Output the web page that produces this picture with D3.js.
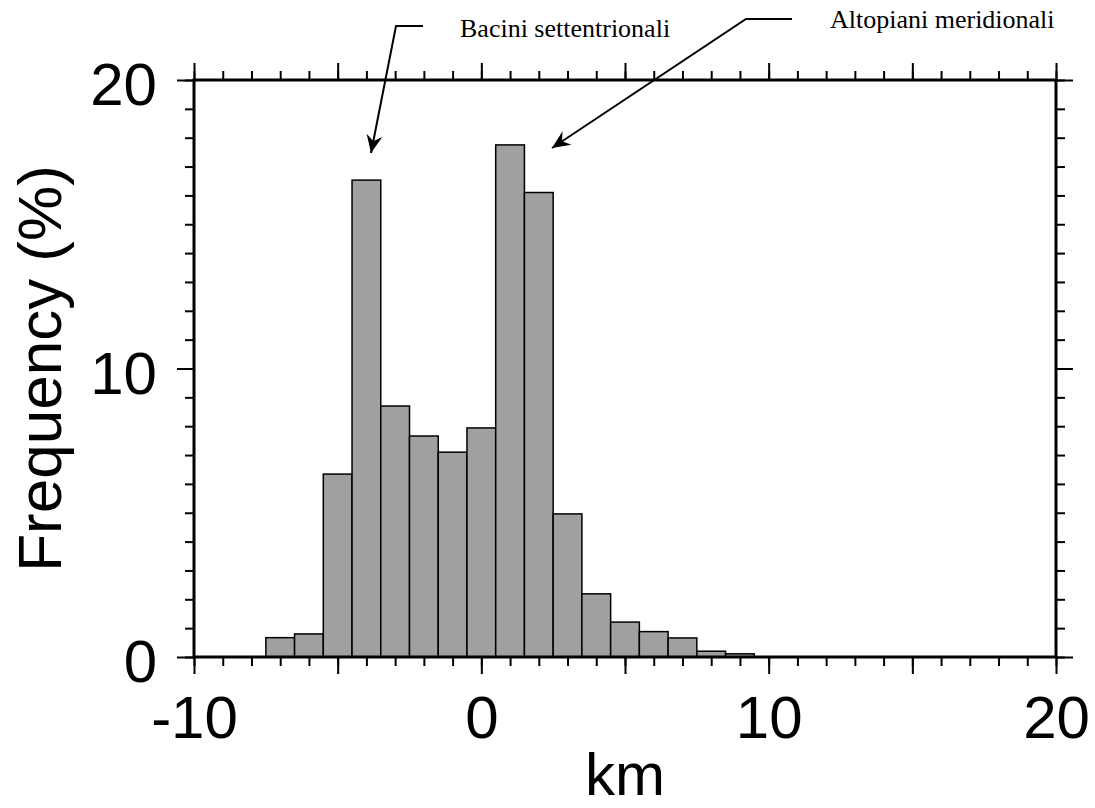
<!DOCTYPE html>
<html>
<head>
<meta charset="utf-8">
<script src="https://cdn.jsdelivr.net/npm/d3@7"></script>
<style>
  html, body { margin: 0; padding: 0; background: #fff; }
  svg { display: block; }
</style>
</head>
<body>
<svg id="chart" width="1095" height="808"></svg>
<script>
// bin centres (km), 1 km wide bins
var binCenters = [-7, -6, -5, -4, -3, -2, -1, 0, 1, 2, 3, 4, 5, 6, 7, 8, 9];
// frequency (%)
var freq = [0.67, 0.80, 6.34, 16.53, 8.70, 7.66, 7.10, 7.94, 17.75, 16.10, 4.96, 2.19, 1.21, 0.88, 0.66, 0.20, 0.11];
var xLabels = [-10, 0, 10, 20];
var yLabels = [0, 10, 20];

var svg = d3.select("#chart");
var font = "'Liberation Sans', Arial, Helvetica, sans-serif";

var x = d3.scaleLinear().domain([-10, 20]).range([194, 1056]);
var y = d3.scaleLinear().domain([0, 20]).range([657, 80]);

// bars
svg.append("g").selectAll("rect")
    .data(binCenters)
    .enter().append("rect")
    .attr("x", function(d) { return x(d - 0.5); })
    .attr("width", function(d) { return x(d + 0.5) - x(d - 0.5); })
    .attr("y", function(d, i) { return y(freq[i]); })
    .attr("height", function(d, i) { return y(0) - y(freq[i]); })
    .attr("fill", "#a0a0a0")
    .attr("stroke", "#000")
    .attr("stroke-width", 1.5);

function fmt(list) {
    return function(d) { return list.indexOf(d) >= 0 ? d : ""; };
}

function addAxis(axis, tx, ty, minorVals, majorVals, labels, scale) {
    var gMin = svg.append("g").attr("transform", "translate(" + tx + "," + ty + ")")
        .call(axis(scale).tickValues(minorVals).tickSize(9).tickFormat(""));
    var gMaj = svg.append("g").attr("transform", "translate(" + tx + "," + ty + ")")
        .call(axis(scale).tickValues(majorVals).tickSize(17).tickPadding(20)
            .tickFormat(labels ? fmt(labels) : ""));
    [gMin, gMaj].forEach(function(g) {
        g.select(".domain").remove();
        g.selectAll("line").attr("stroke", "#000").attr("stroke-width", 2);
        g.selectAll("text").style("font-family", font).style("font-size", "60px").attr("fill", "#000");
    });
    return gMaj;
}

var gx = addAxis(d3.axisBottom, 0, 657, d3.range(-10, 21), d3.range(-10, 21, 5), xLabels, x);
gx.selectAll("text").attr("dy", "0.71em").attr("y", 38);
addAxis(d3.axisTop, 0, 80, d3.range(-10, 21), d3.range(-10, 21, 5), null, x);
var gy = addAxis(d3.axisLeft, 194, 0, d3.range(0, 21), [0, 10, 20], yLabels, y);
gy.selectAll("text").attr("dy", "0.41em");
addAxis(d3.axisRight, 1056, 0, d3.range(0, 21), [0, 10, 20], null, y);

// frame
svg.append("rect")
    .attr("x", x(-10)).attr("y", y(20))
    .attr("width", x(20) - x(-10)).attr("height", y(0) - y(20))
    .attr("fill", "none").attr("stroke", "#000").attr("stroke-width", 3);

// axis titles
svg.append("text")
    .attr("x", (x(-10) + x(20)) / 2).attr("y", 795)
    .attr("text-anchor", "middle")
    .style("font-family", font).style("font-size", "60px")
    .text("km");

svg.append("text")
    .attr("transform", "translate(61," + (y(0) + y(20)) / 2 + ") rotate(-90)")
    .attr("text-anchor", "middle")
    .style("font-family", font).style("font-size", "62px")
    .text("Frequency (%)");

// annotations
svg.append("defs").append("marker")
    .attr("id", "head")
    .attr("markerUnits", "userSpaceOnUse")
    .attr("viewBox", "-20 -10 21 20")
    .attr("refX", 0).attr("refY", 0)
    .attr("markerWidth", 21).attr("markerHeight", 20)
    .attr("orient", "auto")
    .append("path")
    .attr("d", "M0,0 L-18,-8 L-12,0 L-18,8 Z")
    .attr("fill", "#000");

var line = d3.line();
svg.append("path")
    .attr("d", line([[423, 26], [396, 26], [371, 153]]))
    .attr("fill", "none").attr("stroke", "#000").attr("stroke-width", 2)
    .attr("marker-end", "url(#head)");
svg.append("path")
    .attr("d", line([[792, 19], [746, 19], [552, 148]]))
    .attr("fill", "none").attr("stroke", "#000").attr("stroke-width", 2)
    .attr("marker-end", "url(#head)");

svg.append("text")
    .attr("x", 460).attr("y", 37)
    .style("font-family", "'Liberation Serif', 'Times New Roman', serif").style("font-size", "26px")
    .text("Bacini settentrionali");
svg.append("text")
    .attr("x", 830).attr("y", 28)
    .style("font-family", "'Liberation Serif', 'Times New Roman', serif").style("font-size", "26px")
    .text("Altopiani meridionali");
</script>
</body>
</html>
